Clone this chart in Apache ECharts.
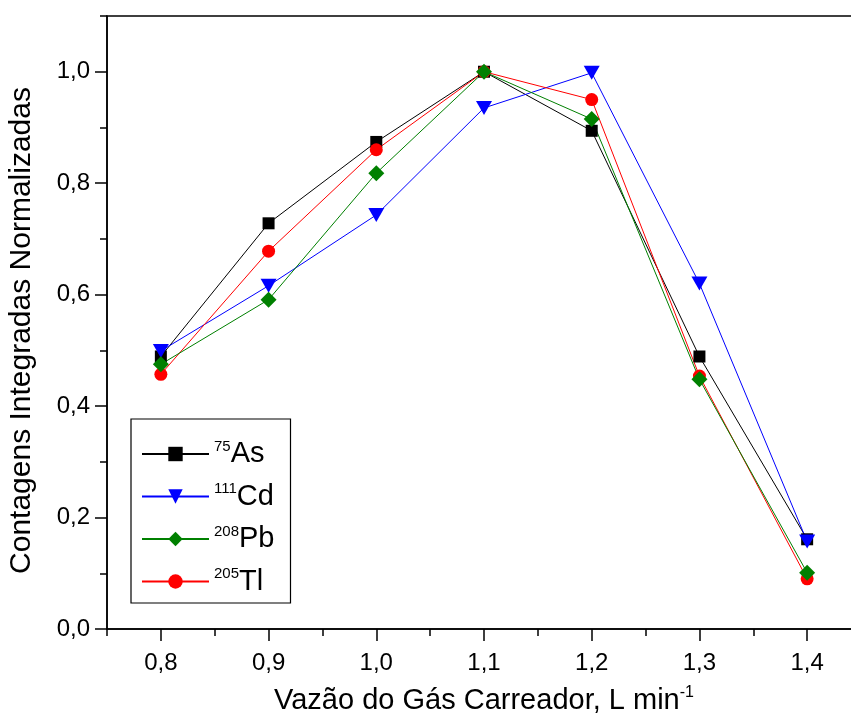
<!DOCTYPE html>
<html>
<head>
<meta charset="utf-8">
<script src="https://cdn.jsdelivr.net/npm/echarts@6/dist/echarts.min.js"></script>
<style>html,body{margin:0;padding:0;background:#fff;}#c{width:851px;height:725px;}</style>
</head>
<body>
<div id="c"></div>
<script>
// ---- data ----
const flow = [0.8, 0.9, 1.0, 1.1, 1.2, 1.3, 1.4];
const as75  = [0.489, 0.728, 0.874, 1.000, 0.894, 0.489, 0.161];
const cd111 = [0.499, 0.616, 0.743, 0.935, 0.998, 0.620, 0.157];
const pb208 = [0.475, 0.591, 0.818, 1.000, 0.915, 0.448, 0.101];
const tl205 = [0.457, 0.678, 0.860, 1.000, 0.950, 0.454, 0.090];
const xTickValues = [0.8, 0.9, 1.0, 1.1, 1.2, 1.3, 1.4];
const xTickLabels = ['0,8', '0,9', '1,0', '1,1', '1,2', '1,3', '1,4'];
const yTickValues = [0.0, 0.2, 0.4, 0.6, 0.8, 1.0];
const yTickLabels = ['0,0', '0,2', '0,4', '0,6', '0,8', '1,0'];
const xMinorPositions = ['0,75','0,8','0,85','0,9','0,95','1,0','1,05','1,1','1,15','1,2','1,25','1,3','1,35','1,4','1,45'];
const yMinorPositions = ['0,0','0,1','0,2','0,3','0,4','0,5','0,6','0,7','0,8','0,9','1,0','1,1'];
const isotopes = {As: '75', Cd: '111', Pb: '208', Tl: '205'};

const FONT = '"Liberation Sans", Arial, sans-serif';
function pair(xs, ys) { return xs.map((x, i) => [x, ys[i]]); }
function lookup(vals, labels, v) {
  for (let i = 0; i < vals.length; i++) if (Math.abs(vals[i] - v) < 1e-6) return labels[i];
  return '';
}

const chart = echarts.init(document.getElementById('c'), null, {renderer: 'canvas'});
const option = {
  animation: false,
  backgroundColor: '#fff',
  textStyle: {fontFamily: FONT},
  grid: {left: 107, top: 16, width: 754, height: 613, outerBoundsMode: 'none', containLabel: false,
    show: true, borderColor: '#000', borderWidth: 1.5, backgroundColor: 'transparent'},
  xAxis: [{
    type: 'value', position: 'bottom', min: 0.75, max: 1.45, interval: 0.05,
    splitLine: {show: false},
    axisLine: {lineStyle: {color: '#000', width: 1.5}},
    axisTick: {length: 7, lineStyle: {color: '#000', width: 1.5}},
    axisLabel: {margin: 22, color: '#000', fontSize: 24, fontFamily: FONT,
      formatter: v => lookup(xTickValues, xTickLabels, v)},
    name: '{m|Vazão do Gás Carreador, L min}{s|-1}',
    nameLocation: 'middle', nameGap: 56,
    nameTextStyle: {rich: {
      m: {fontSize: 29, fontFamily: FONT, color: '#000', lineHeight: 32, verticalAlign: 'middle'},
      s: {fontSize: 16, fontFamily: FONT, color: '#000', lineHeight: 16, verticalAlign: 'top'}
    }}
  }, {
    type: 'category', position: 'bottom', data: xMinorPositions, boundaryGap: false,
    axisLine: {show: false}, axisLabel: {show: false}, splitLine: {show: false},
    axisTick: {length: 12, interval: (i) => i % 2 === 1, lineStyle: {color: '#000', width: 1.5}}
  }],
  yAxis: [{
    type: 'value', position: 'left', min: 0, max: 1.1, interval: 0.1,
    splitLine: {show: false},
    axisLine: {lineStyle: {color: '#000', width: 1.5}},
    axisTick: {length: 7, lineStyle: {color: '#000', width: 1.5}},
    axisLabel: {margin: 17, color: '#000', fontSize: 24, fontFamily: FONT,
      formatter: v => lookup(yTickValues, yTickLabels, v)},
    name: 'Contagens Integradas Normalizadas',
    nameLocation: 'middle', nameGap: 70, nameRotate: 90,
    nameTextStyle: {fontSize: 30, fontFamily: FONT, color: '#000', padding: [0, 16, 0, 0]}
  }, {
    type: 'category', position: 'left', data: yMinorPositions, boundaryGap: false,
    axisLine: {show: false}, axisLabel: {show: false}, splitLine: {show: false},
    axisTick: {length: 12, interval: (i) => i % 2 === 0, lineStyle: {color: '#000', width: 1.5}}
  }],
  legend: {
    orient: 'vertical', left: 131, top: 419,
    data: ['As', 'Cd', 'Pb', 'Tl'],
    selectedMode: false,
    itemWidth: 67, itemHeight: 18, itemGap: 13,
    padding: [20, 16, 7, 10],
    borderColor: '#000', borderWidth: 1.2, backgroundColor: '#fff',
    formatter: name => '{s|' + isotopes[name] + '}{m|' + name + '}',
    textStyle: {rich: {
      m: {fontSize: 29, fontFamily: FONT, color: '#000', lineHeight: 30, verticalAlign: 'middle'},
      s: {fontSize: 15, fontFamily: FONT, color: '#000', lineHeight: 15, verticalAlign: 'top'}
    }}
  },
  series: [
    {name: 'As', type: 'line', data: pair(flow, as75), symbol: 'rect', symbolSize: 12,
     itemStyle: {color: '#000'}, lineStyle: {color: '#000', width: 1}},
    {name: 'Cd', type: 'line', data: pair(flow, cd111), symbol: 'triangle', symbolSize: [16, 14], symbolRotate: 180,
     itemStyle: {color: '#0000ff'}, lineStyle: {color: '#0000ff', width: 1}},
    {name: 'Tl', type: 'line', data: pair(flow, tl205), symbol: 'circle', symbolSize: 13,
     itemStyle: {color: '#ff0000'}, lineStyle: {color: '#ff0000', width: 1}},
    {name: 'Pb', type: 'line', data: pair(flow, pb208), symbol: 'diamond', symbolSize: 16,
     itemStyle: {color: '#008000'}, lineStyle: {color: '#008000', width: 1}}
  ]
};
chart.setOption(option);
</script>
</body>
</html>
